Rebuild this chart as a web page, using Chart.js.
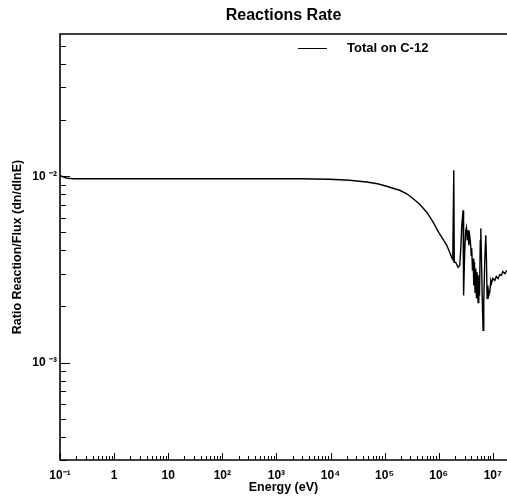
<!DOCTYPE html>
<html>
<head>
<meta charset="utf-8">
<script src="https://cdn.jsdelivr.net/npm/chart.js@4.4.1/dist/chart.umd.min.js"></script>
<style>
html,body{margin:0;padding:0;background:#fff;overflow:hidden}
#wrap{width:507px;height:498px;position:relative}
</style>
</head>
<body>
<div id="wrap"><canvas id="c"></canvas></div>
<script>
// ---- data ----
const energy = [0.1, 0.114, 0.135, 0.18, 0.53, 4.45, 37.5, 316, 2670, 9580,
  22500, 46400, 74200, 109000, 153000, 190000, 256000, 330000, 445000, 600000,
  774000, 1.0e6, 1.24e6, 1.41e6, 1.6e6, 1.74e6, 1.82e6, 1.9e6, 1.94e6, 2.06e6,
  2.28e6, 2.45e6, 2.55e6, 2.67e6, 2.82e6, 2.87e6, 2.9e6, 3.03e6, 3.16e6, 3.26e6,
  3.37e6, 3.49e6, 3.6e6, 3.75e6, 3.86e6, 4.0e6, 4.08e6, 4.21e6, 4.32e6, 4.45e6,
  4.58e6, 4.7e6, 4.84e6, 4.99e6, 5.12e6, 5.35e6, 5.51e6, 5.68e6, 5.87e6, 6.0e6,
  6.18e6, 6.4e6, 6.61e6, 6.81e6, 7.11e6, 7.42e6, 7.64e6, 7.84e6, 8.07e6, 8.43e6,
  8.79e6, 9.18e6, 9.46e6, 1.0e7, 1.09e7, 1.16e7, 1.25e7, 1.35e7, 1.45e7, 1.53e7,
  1.67e7, 1.82e7];
const ratioTotalC12 = [0.01006, 0.00994, 0.00975, 0.0097, 0.0097, 0.0097, 0.0097, 0.0097, 0.0097, 0.00964,
  0.00952, 0.00932, 0.00912, 0.00884, 0.00857, 0.00841, 0.00805, 0.00762, 0.00707, 0.00641,
  0.00573, 0.005, 0.00453, 0.00426, 0.0039, 0.00367, 0.00358, 0.01077, 0.00345, 0.00345,
  0.00325, 0.00332, 0.004, 0.00545, 0.00657, 0.004, 0.00229, 0.004, 0.00513, 0.00532,
  0.00453, 0.00513, 0.00426, 0.00476, 0.00442, 0.00376, 0.0041, 0.00312, 0.00362, 0.00259,
  0.00345, 0.00238, 0.0032, 0.00221, 0.00305, 0.0021, 0.00294, 0.00229, 0.00453, 0.00525,
  0.00354, 0.00215, 0.00149, 0.00215, 0.00354, 0.00482, 0.00354, 0.00221, 0.00259, 0.00229,
  0.00239, 0.00276, 0.00266, 0.00283, 0.00276, 0.0029, 0.00282, 0.00297, 0.00294, 0.00308,
  0.003, 0.00312];
const xTickValues = [0.1, 1, 10, 100, 1e3, 1e4, 1e5, 1e6, 1e7];
const xTickLabels = ['10\u207B\u00B9', '1', '10', '10\u00B2', '10\u00B3', '10\u2074', '10\u2075', '10\u2076', '10\u2077'];
const yTickValues = [1e-3, 1e-2];
const yTickLabels = ['10 \u207B\u00B3', '10 \u207B\u00B2'];
const seriesName = 'Total on C-12';
const chartTitle = 'Reactions Rate';
const xTitle = 'Energy (eV)';
const yTitle = 'Ratio Reaction/Flux (dn/dlnE)';

const FONT = '"Liberation Sans", Arial, Helvetica, sans-serif';
Chart.defaults.font.family = FONT;
Chart.defaults.color = '#000';

function labelFor(values, labels, v) {
  for (let i = 0; i < values.length; i++) {
    if (Math.abs(Math.log10(values[i]) - Math.log10(v)) < 1e-6) return labels[i];
  }
  return '';
}
function isDecadeMultiple(v) {
  const e = Math.floor(Math.log10(v) + 1e-9);
  const m = v / Math.pow(10, e);
  return Math.abs(m - Math.round(m)) < 1e-6 ? Math.round(m) : 0;
}

const framePlugin = {
  id: 'frame',
  afterDraw(chart) {
    const ctx = chart.ctx, a = chart.chartArea;
    const xs = chart.scales.x, ys = chart.scales.y;
    ctx.save();
    ctx.strokeStyle = '#000';
    // inward tick marks
    ctx.lineWidth = 1;
    xs.ticks.forEach(t => {
      const m = isDecadeMultiple(t.value);
      if (!m) return;
      const px = Math.round(xs.getPixelForValue(t.value)) + 0.5;
      if (px < a.left - 1 || px > a.right + 1) return;
      const len = m === 1 ? 7 : 4;
      ctx.beginPath(); ctx.moveTo(px, a.bottom); ctx.lineTo(px, a.bottom - len); ctx.stroke();
    });
    ys.ticks.forEach(t => {
      const m = isDecadeMultiple(t.value);
      if (!m) return;
      const py = Math.round(ys.getPixelForValue(t.value)) + 0.5;
      if (py < a.top - 1 || py > a.bottom + 1) return;
      const len = m === 1 ? 10 : 6;
      ctx.beginPath(); ctx.moveTo(a.left, py); ctx.lineTo(a.left + len, py); ctx.stroke();
    });
    // frame
    ctx.lineWidth = 1.6;
    ctx.beginPath();
    ctx.moveTo(a.right, a.top); ctx.lineTo(a.left, a.top); ctx.lineTo(a.left, a.bottom); ctx.lineTo(a.right, a.bottom);
    ctx.stroke();
    // legend
    ctx.lineWidth = 1;
    ctx.beginPath(); ctx.moveTo(298, 48.5); ctx.lineTo(327, 48.5); ctx.stroke();
    ctx.fillStyle = '#000';
    ctx.font = 'bold 13px ' + FONT;
    ctx.textBaseline = 'middle';
    ctx.textAlign = 'left';
    ctx.fillText(seriesName, 347, 48);
    ctx.restore();
  }
};

new Chart(document.getElementById('c'), {
  type: 'line',
  data: {
    datasets: [{
      label: seriesName,
      data: energy.map((e, i) => ({x: e, y: ratioTotalC12[i]})),
      borderColor: '#000',
      borderWidth: 1.4,
      pointRadius: 0,
      tension: 0,
      fill: false
    }]
  },
  options: {
    responsive: true,
    maintainAspectRatio: false,
    animation: false,
    layout: {padding: 0},
    plugins: {
      legend: {display: false},
      tooltip: {enabled: false},
      title: {
        display: true,
        text: chartTitle,
        fullSize: false,
        font: {size: 16, weight: 'bold', family: FONT},
        color: '#000',
        padding: {top: 6, bottom: 8.8}
      }
    },
    scales: {
      x: {
        type: 'logarithmic',
        min: 0.1,
        max: 1.83e7,
        grid: {display: false, drawTicks: false},
        border: {display: false},
        afterFit(s) { s.height = 38; s.paddingLeft = 0; s.paddingRight = 0; },
        ticks: {
          autoSkip: false,
          maxRotation: 0,
          padding: 8,
          font: {size: 12, weight: 'bold'},
          color: '#000',
          callback: (v) => labelFor(xTickValues, xTickLabels, v)
        },
        title: {
          display: true,
          text: xTitle,
          font: {size: 12.5, weight: 'bold'},
          color: '#000',
          padding: {top: 2.5, bottom: 2.5}
        }
      },
      y: {
        type: 'logarithmic',
        min: 3e-4,
        max: 0.058,
        grid: {display: false, drawTicks: false},
        border: {display: false},
        afterFit(s) { s.width = 60; s.paddingTop = 0; s.paddingBottom = 0; },
        ticks: {
          autoSkip: false,
          padding: 3,
          font: {size: 12, weight: 'bold'},
          color: '#000',
          callback: (v) => labelFor(yTickValues, yTickLabels, v)
        },
        title: {
          display: true,
          text: yTitle,
          font: {size: 12.5, weight: 'bold'},
          color: '#000',
          padding: {top: 10.5, bottom: 10.5}
        }
      }
    }
  },
  plugins: [framePlugin]
});
</script>
</body>
</html>
